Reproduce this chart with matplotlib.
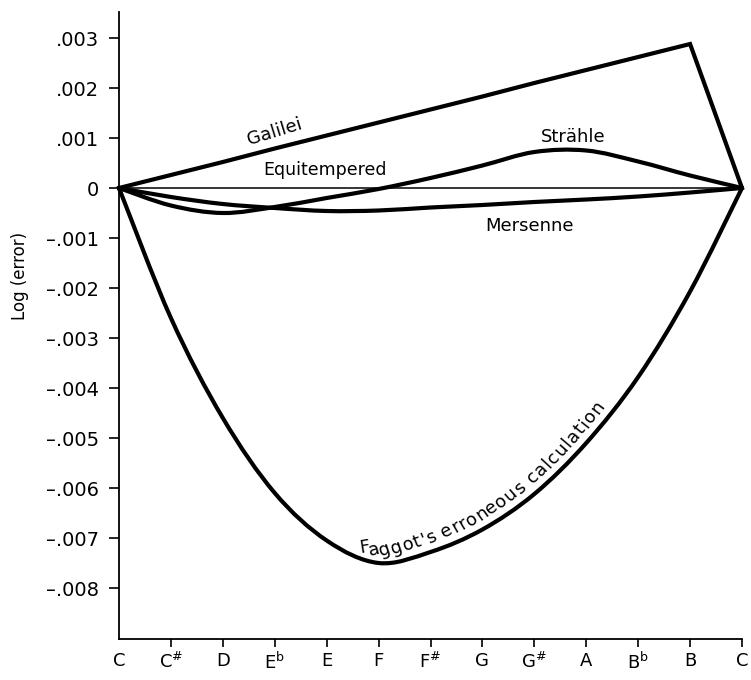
import numpy as np
import matplotlib
matplotlib.use("Agg")
import matplotlib.pyplot as plt
from matplotlib.path import Path
from matplotlib.patches import PathPatch
from matplotlib.transforms import IdentityTransform
from matplotlib.font_manager import FontProperties


notes = ["C", r"C$^{\#}$", "D", r"E$^{\mathrm{b}}$", "E", "F", r"F$^{\#}$",
         "G", r"G$^{\#}$", "A", r"B$^{\mathrm{b}}$", "B", "C"]
steps = list(range(13))

# log(error), one value per note
equitempered = [0, 0, 0, 0, 0, 0, 0, 0, 0, 0, 0, 0, 0]
galilei = [0, .00026, .00052, .00079, .00105, .00131, .00157, .00183,
           .0021, .00236, .00262, .00288, 0]
mersenne = [0, -.00018, -.00032, -.0004, -.00046, -.00045, -.00039, -.00034,
            -.00028, -.00023, -.00017, -.00009, 0]
strahle = [0, -.00035, -.0005, -.00038, -.0002, -.00002, .0002, .00045,
           .00072, .00075, .00053, .00025, 0]
faggot = [0, -.0026, -.0046, -.0061, -.00705, -.0075, -.00728, -.00683,
          -.00612, -.0051, -.00378, -.00207, 0]

yticks = [.003, .002, .001, 0, -.001, -.002, -.003, -.004, -.005, -.006, -.007, -.008]
ytick_labels = [".003", ".002", ".001", "0"] + ["\u2013.00%d" % k for k in range(1, 9)]


def smooth_path(x, y):
    # Catmull-Rom through the points, drawn as cubic bezier segments
    pts = np.column_stack([x, y]).astype(float)
    ext = np.vstack([pts[0], pts, pts[-1]])
    verts = [pts[0]]
    codes = [Path.MOVETO]
    for i in range(len(pts) - 1):
        p0, p1, p2, p3 = ext[i], ext[i + 1], ext[i + 2], ext[i + 3]
        verts += [p1 + (p2 - p0) / 6, p2 - (p3 - p1) / 6, p2]
        codes += [Path.CURVE4] * 3
    return Path(verts, codes)


def text_on_path(ax, path, text, x_start, offset, prop, track=0.0, ahead=0.0):
    renderer = ax.figure.canvas.get_renderer()
    t = np.linspace(0, 1, 40)
    data_pts = np.vstack([bez(t) for bez, code in path.iter_bezier()
                          if code != Path.MOVETO])
    xy = ax.transData.transform(data_pts)
    s = np.concatenate([[0], np.cumsum(np.hypot(*np.diff(xy, axis=0).T))])
    s0 = np.interp(x_start, xy[:, 0], s)
    w_bar = renderer.get_text_width_height_descent("|", prop, ismath=False)[0]

    def width(k):
        w = renderer.get_text_width_height_descent(text[:k] + "|", prop, ismath=False)[0]
        return w - w_bar

    def at(v):
        return np.interp(v, s, xy[:, 0]), np.interp(v, s, xy[:, 1])

    for i, c in enumerate(text):
        sc = s0 + (width(i) + width(i + 1)) / 2 + i * track
        px, py = at(sc)
        x1, y1 = at(sc + ahead - 6)
        x2, y2 = at(sc + ahead + 6)
        ang = np.arctan2(y2 - y1, x2 - x1)
        tx = px - offset * np.sin(ang)
        ty = py + offset * np.cos(ang)
        ax.text(tx, ty, c, transform=IdentityTransform(), rotation=np.degrees(ang),
                rotation_mode="anchor", ha="center", va="baseline",
                fontproperties=prop)


def main():
    fig = plt.figure(figsize=(7.51, 6.8), dpi=100)
    ax = fig.add_axes([119 / 751, 41 / 680, 623 / 751, 627 / 680])
    ax.set_xlim(0, 12)
    ax.set_ylim(-.00902, .00352)

    lw = 3.0
    ax.plot(steps, equitempered, color="black", lw=1.1, clip_on=False)
    ax.plot(steps, galilei, color="black", lw=lw, clip_on=False,
            solid_joinstyle="miter")
    for vals in (mersenne, strahle, faggot):
        p = smooth_path(steps, vals)
        ax.add_patch(PathPatch(p, fill=False, ec="black", lw=lw,
                               clip_on=False, capstyle="round"))

    for sp in ("top", "right"):
        ax.spines[sp].set_visible(False)
    for sp in ("left", "bottom"):
        ax.spines[sp].set_linewidth(1.3)

    ax.set_xticks(steps)
    ax.set_xticklabels(notes, fontsize=13)
    ax.set_yticks(yticks)
    ax.set_yticklabels(ytick_labels, fontsize=14)
    ax.tick_params(axis="x", direction="out", length=6, width=1.2, pad=3)
    ax.tick_params(axis="y", direction="out", length=7, width=1.2, pad=7.5)
    ax.xaxis.get_major_ticks()[0].tick1line.set_visible(False)

    fig.text(20 / 751, 1 - 276 / 680, "Log (error)", rotation=90,
             ha="center", va="center", fontsize=12)

    ax.text(3.0, .00113, "Galilei", fontsize=13, rotation=17,
            ha="center", va="center")
    ax.text(3.97, .00037, "Equitempered", fontsize=12.5, ha="center", va="center")
    ax.text(8.75, .00103, "Str\u00e4hle", fontsize=13, ha="center", va="center")
    ax.text(7.9, -.00076, "Mersenne", fontsize=13, ha="center", va="center")

    fig.canvas.draw()
    prop = FontProperties(family="DejaVu Sans", size=13)
    text_on_path(ax, smooth_path(steps, faggot), "Faggot's erroneous calculation",
                 362, 9, prop, track=1.0, ahead=28)

    fig.savefig("out.png", dpi=100)


if __name__ == "__main__":
    main()
